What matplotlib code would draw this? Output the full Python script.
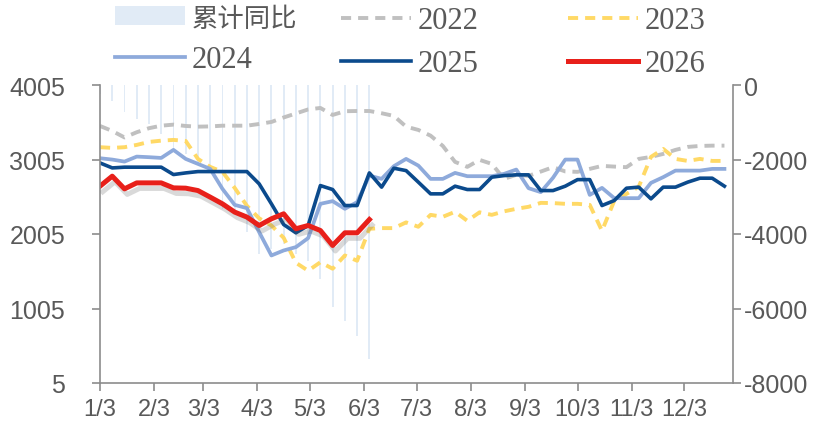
import matplotlib
matplotlib.use("Agg")
from matplotlib import pyplot as plt
from matplotlib import patheffects as pe
from matplotlib.lines import Line2D

plt.rcParams["axes.unicode_minus"] = False

# Weekly series, week 0 = 1/3
v2022 = [3455, 3388, 3301, 3371, 3425, 3459, 3473, 3455, 3446, 3449, 3459, 3459,
         3459, 3482, 3509, 3569, 3623, 3677, 3697, 3603, 3653, 3656, 3656, 3626,
         3590, 3446, 3402, 3325, 3187, 2973, 2906, 3000, 2946, 2745, 2799, 2785, 2843, 2902,
         2845, 2839, 2879, 2919, 2910, 2902, 3013, 3040, 3080, 3134, 3174, 3187, 3191, 3191]
v2023 = [3170, 3161, 3170, 3201, 3241, 3258, 3268, 3254, 3013, 2906, 2839, 2624,
         2383, 2215, 2119, 1954, 1619, 1512, 1626, 1539, 1717, 1646, 2075, 2084,
         2084, 2161, 2102, 2262, 2236, 2303, 2182, 2296, 2262, 2309, 2343, 2370, 2423, 2420,
         2410, 2410, 2396, 2048, 2450, 2544, 2638, 3040, 3147, 3013, 2986, 3013, 2986, 2986]
v2024 = [3022, 3004, 2977, 3044, 3036, 3026, 3134, 3013, 2946, 2879, 2611, 2396,
         2352, 2030, 1717, 1784, 1829, 1950, 2410, 2446, 2343, 2433, 2789, 2745,
         2915, 3013, 2923, 2745, 2745, 2825, 2781, 2781, 2781, 2812, 2870, 2620, 2567, 2760,
         3004, 3004, 2530, 2624, 2486, 2486, 2486, 2691, 2768, 2856, 2856, 2856, 2879, 2879]
v2025 = [2959, 2892, 2902, 2902, 2902, 2902, 2803, 2825, 2843, 2843, 2843, 2843,
         2843, 2678, 2410, 2132, 2021, 2119, 2655, 2602, 2387, 2387, 2825, 2634,
         2888, 2856, 2701, 2544, 2544, 2647, 2602, 2602, 2768, 2789, 2799, 2799, 2588, 2588,
         2647, 2735, 2735, 2387, 2454, 2620, 2634, 2477, 2634, 2634, 2701, 2754, 2754, 2647]
v2026 = [2647, 2781, 2611, 2691, 2691, 2691, 2624, 2620, 2588, 2500, 2410, 2299,
         2232, 2119, 2209, 2276, 2075, 2119, 2052, 1851, 2021, 2021, 2199]
cum_yoy = [-240, -430, -725, -913, -1047, -1316, -1718, -1853, -2121, -2309, -3329, -3464,
           -3947, -4537, -4403, -4269, -4537, -4726, -5209, -5961, -6337, -6740, -7357]

tick_labels = ["1/3", "2/3", "3/3", "4/3", "5/3", "6/3", "7/3", "8/3", "9/3", "10/3", "11/3", "12/3"]
tick_days = [3, 34, 62, 93, 123, 154, 184, 215, 246, 276, 307, 337]
tick_pos = [(d - 3) / 7 for d in tick_days]

weeks = list(range(52))
grey_txt = "#595959"
axis_col = "#8c8c8c"
red = "#e8201a"

fig = plt.figure(figsize=(8.26, 4.27), dpi=100)
ax = fig.add_axes([100 / 826, 1 - 384 / 427, 633 / 826, 298 / 427])
ax2 = ax.twinx()
ax.set_zorder(ax2.get_zorder() + 1)
ax.patch.set_visible(False)

# Bars on the right axis
bars = ax2.bar(weeks[:len(cum_yoy)], cum_yoy, width=0.15, color="#e1ebf6", zorder=1)
ax2.set_ylim(-8000, 0)
ax2.set_yticks([0, -2000, -4000, -6000, -8000])

# Lines on the left axis
l22, = ax.plot(weeks, v2022, color="#c0c0c0", lw=2.8, dashes=(2.6, 1.8))
l23, = ax.plot(weeks, v2023, color="#ffd966", lw=2.8, dashes=(2.6, 1.8))
l24, = ax.plot(weeks, v2024, color="#8eaadb", lw=2.7)
l25, = ax.plot(weeks, v2025, color="#0b4a8c", lw=2.6)
ax.plot(weeks[:len(v2026)], v2026, color=red, lw=3.6,
        path_effects=[pe.SimpleLineShadow(offset=(2, -4), shadow_color="#555555", alpha=0.22),
                      pe.Normal()])
l26 = Line2D([], [], color=red, lw=3.6)

ax.set_xlim(0, 51.7)
ax.set_ylim(5, 4005)
ax.set_yticks([5, 1005, 2005, 3005, 4005])
ax.set_xticks(tick_pos)
ax.set_xticklabels(tick_labels)

for a in (ax, ax2):
    a.spines["top"].set_visible(False)
    for s in a.spines.values():
        s.set_color(axis_col)
        s.set_linewidth(1.2)
ax.spines["right"].set_visible(False)
ax2.spines["left"].set_visible(False)
ax2.spines["bottom"].set_visible(False)

ax.tick_params(axis="y", direction="out", length=6, width=1.2, color=axis_col,
               labelsize=18, labelcolor=grey_txt, pad=19)
ax.tick_params(axis="x", direction="out", length=6, width=1.2, color=axis_col,
               labelsize=17, labelcolor=grey_txt, pad=5)
ax2.tick_params(axis="y", direction="out", length=6, width=1.2, color=axis_col,
                labelsize=18, labelcolor=grey_txt, pad=2)
for t in ax.get_xticklabels() + ax.get_yticklabels() + ax2.get_yticklabels():
    t.set_family("Liberation Sans")

# Legend: three columns of two entries each
leg_font = {"family": ["Liberation Serif", "Noto Sans CJK SC"], "size": 22}
cols = [([bars, l24], ["累计同比", "2024"], 115),
        ([l22, l25], ["2022", "2025"], 341),
        ([l23, l26], ["2023", "2026"], 568)]
for handles, labels, xpix in cols:
    leg = fig.legend(handles, labels, loc="upper left",
                     bbox_to_anchor=(xpix / 826, 1 - 7 / 427),
                     frameon=False, prop=leg_font, handlelength=2.3,
                     handletextpad=0.2, labelspacing=0.45, borderpad=0,
                     borderaxespad=0, handleheight=0.6)
    for t in leg.get_texts():
        t.set_color(grey_txt)
        if t.get_text() == "累计同比":
            t.set_fontsize(19)

fig.savefig("out.png", dpi=100)
